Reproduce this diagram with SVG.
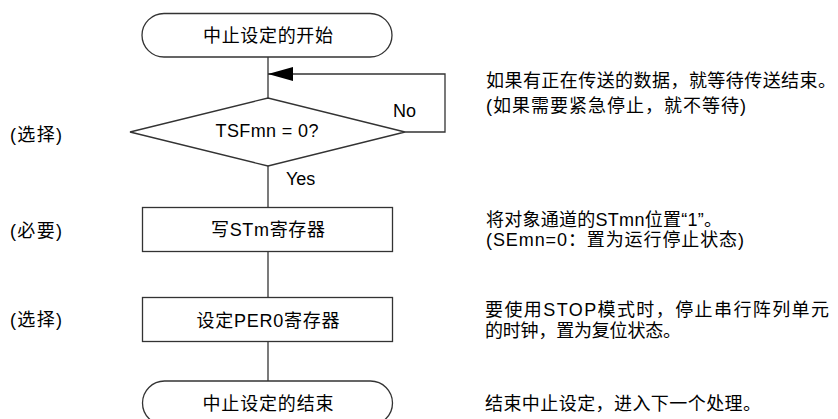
<svg xmlns="http://www.w3.org/2000/svg" width="838" height="419" viewBox="0 0 838 419">
<style>
.s{fill:#fff;stroke:#333;stroke-width:1.3}
.c{fill:none;stroke:#333;stroke-width:1.3}
text{font-family:"Liberation Sans","Noto Sans CJK SC",sans-serif;font-size:18px;fill:#000}
.m{text-anchor:middle}
</style>
<defs>
<marker id="ah" viewBox="0 0 25 14" refX="25" refY="7" markerWidth="25" markerHeight="14" markerUnits="userSpaceOnUse" orient="auto">
<path d="M0,0 L25,7 L0,14 Z" fill="#000"/>
</marker>
</defs>
<rect width="838" height="419" fill="#fff"/>
<g id="connectors">
<line class="c" x1="268" y1="57" x2="268" y2="98"/>
<path class="c" d="M405,132 H445 V74 H268" marker-end="url(#ah)"/>
<line class="c" x1="268" y1="166" x2="268" y2="207.5"/>
<line class="c" x1="268" y1="251.5" x2="268" y2="297.5"/>
<line class="c" x1="268" y1="341.5" x2="268" y2="381"/>
<text x="393" y="117">No</text>
<text x="286" y="184.5">Yes</text>
</g>
<g id="start">
<rect class="s" x="142" y="13.5" width="250" height="43.5" rx="22" ry="21.75"/>
<text class="m" x="268" y="42" textLength="130">中止设定的开始</text>
</g>
<g id="decision">
<polygon class="s" points="130,132 268,98 405,132 268,166"/>
<text class="m" x="267" y="137" textLength="103">TSFmn = 0?</text>
</g>
<g id="writeSTm">
<rect class="s" x="142.5" y="207.5" width="250" height="44"/>
<text class="m" x="268" y="235.5" textLength="114">写STm寄存器</text>
</g>
<g id="setPER0">
<rect class="s" x="142.5" y="297.5" width="250" height="44"/>
<text class="m" x="268" y="326.5" textLength="143">设定PER0寄存器</text>
</g>
<g id="end">
<rect class="s" x="142.5" y="381" width="250" height="44" rx="22" ry="22"/>
<text class="m" x="268" y="410" textLength="131">中止设定的结束</text>
</g>
<g id="labels">
<text x="10" y="140.5" textLength="52">(选择)</text>
<text x="10" y="237" textLength="52">(必要)</text>
<text x="10" y="325.5" textLength="52">(选择)</text>
<text x="486" y="87" textLength="350">如果有正在传送的数据，就等待传送结束。</text>
<text x="486" y="111.5" textLength="260">(如果需要紧急停止，就不等待)</text>
<text x="486" y="225.5" textLength="236">将对象通道的STmn位置“1”。</text>
<text x="486" y="245.5" textLength="258">(SEmn=0：置为运行停止状态)</text>
<text x="485" y="315.5" textLength="344">要使用STOP模式时，停止串行阵列单元</text>
<text x="485" y="337" textLength="196">的时钟，置为复位状态。</text>
<text x="485" y="410" textLength="276">结束中止设定，进入下一个处理。</text>
</g>
</svg>
